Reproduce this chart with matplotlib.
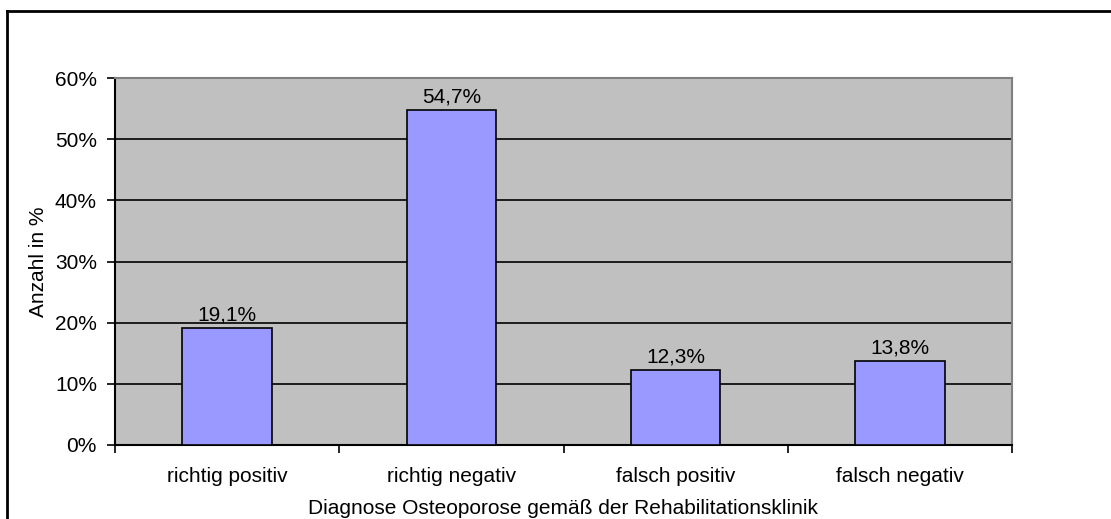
import matplotlib
matplotlib.use('Agg')
import matplotlib.pyplot as plt
from matplotlib.lines import Line2D

categories = ['richtig positiv', 'richtig negativ', 'falsch positiv', 'falsch negativ']
values = [19.1, 54.7, 12.3, 13.8]
yticks = [0, 10, 20, 30, 40, 50, 60]

plt.rcParams['font.family'] = ['Liberation Sans', 'DejaVu Sans']
FS = 15

W, H = 1111, 519
fig = plt.figure(figsize=(W / 100, H / 100), dpi=100)
ax = fig.add_axes([115 / W, 1 - 445 / H, (1012 - 115) / W, (445 - 78) / H])

ax.set_facecolor('#C0C0C0')
x = range(len(categories))
bars = ax.bar(x, values, width=0.4, color='#9999FF', edgecolor='black', linewidth=1.2, zorder=3)
for b, v in zip(bars, values):
    ax.annotate(f'{v:.1f}%'.replace('.', ','), (b.get_x() + b.get_width() / 2, v),
                xytext=(0, 2.5), textcoords='offset points',
                ha='center', va='bottom', fontsize=FS, zorder=4)

ax.set_xlim(-0.5, len(categories) - 0.5)
ax.set_ylim(0, 60)
ax.set_yticks(yticks)
ax.set_yticklabels([f'{t}%' for t in yticks], fontsize=FS)
ax.yaxis.grid(True, color='black', linewidth=1.2, zorder=1)
ax.set_axisbelow(True)

ax.set_xticks(list(x))
ax.set_xticklabels(categories, fontsize=FS)
ax.tick_params(axis='x', length=0, pad=16)
ax.set_xticks([i - 0.5 for i in range(len(categories) + 1)], minor=True)
ax.tick_params(axis='x', which='minor', length=6, width=1.2, direction='out')
ax.tick_params(axis='y', length=6, width=1.2, direction='out', pad=7)

for s in ['top', 'right']:
    ax.spines[s].set_color('#808080')
    ax.spines[s].set_linewidth(1.5)
for s in ['left', 'bottom']:
    ax.spines[s].set_color('black')
    ax.spines[s].set_linewidth(1.5)

ax.set_ylabel('Anzahl in %', fontsize=FS, labelpad=5)
ax.set_xlabel('Diagnose Osteoporose gemäß der Rehabilitationsklinik', fontsize=FS, labelpad=9)

# outer chart frame (cut at right and bottom edge)
fig.add_artist(Line2D([7 / W, 1], [1 - 11 / H, 1 - 11 / H], color='black', linewidth=2, transform=fig.transFigure))
fig.add_artist(Line2D([7 / W, 7 / W], [0, 1 - 11 / H], color='black', linewidth=2, transform=fig.transFigure))

fig.savefig('out.png', dpi=100)
